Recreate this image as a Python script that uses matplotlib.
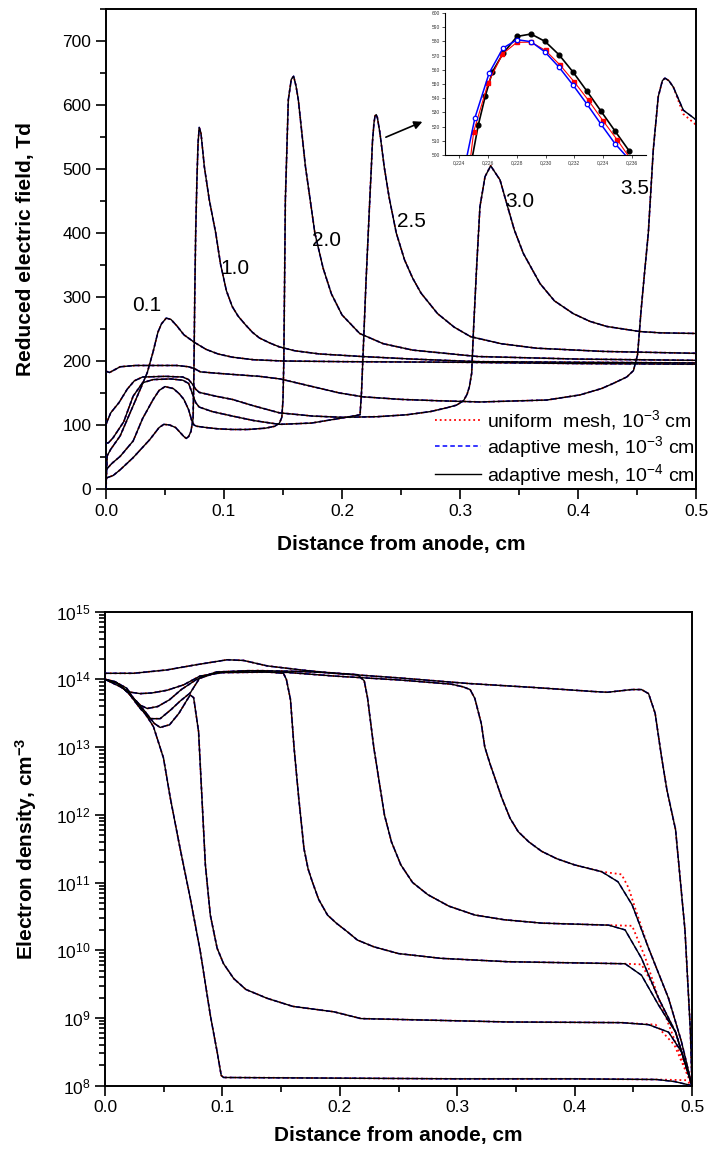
import matplotlib
matplotlib.use('Agg')
import matplotlib.pyplot as plt
from matplotlib.ticker import MultipleLocator, FuncFormatter, LogLocator, NullFormatter, FixedLocator
from matplotlib.lines import Line2D

plt.rcParams['font.family'] = ['Liberation Sans', 'DejaVu Sans']
plt.rcParams['mathtext.fontset'] = 'custom'
plt.rcParams['mathtext.rm'] = 'Liberation Sans'
plt.rcParams['mathtext.it'] = 'Liberation Sans:italic'
plt.rcParams['mathtext.bf'] = 'Liberation Sans:bold'

# ---------------- top panel: reduced electric field (Td) ----------------
E01_x = [0.0, 0.001, 0.004, 0.012, 0.023, 0.030, 0.035, 0.040, 0.044, 0.047, 0.051, 0.055, 0.060, 0.066, 0.075, 0.085, 0.095, 0.107, 0.125, 0.15, 0.2, 0.3, 0.4, 0.5]
E01_y = [0, 52, 62, 83, 130, 160, 182, 215, 245, 258, 267, 265, 255, 241, 229, 218, 211, 206, 202, 200, 199, 198, 196, 195]

E10_x = [0.0, 0.006, 0.012, 0.023, 0.037, 0.045, 0.049, 0.054, 0.059, 0.063, 0.066, 0.068, 0.070, 0.072, 0.0738, 0.0745, 0.0752, 0.076, 0.077, 0.078, 0.079, 0.0805, 0.0833, 0.0875, 0.093, 0.097, 0.102, 0.107, 0.112, 0.118, 0.124, 0.130, 0.139, 0.147, 0.16, 0.181, 0.217, 0.26, 0.315, 0.4, 0.5]
E10_y = [17, 21, 30, 49, 77, 96, 101, 100, 96, 88, 82, 79, 82, 90, 110, 180, 300, 400, 480, 540, 565, 556, 504, 452, 400, 352, 310, 285, 270, 257, 245, 236, 228, 222, 216, 211, 207, 203, 199, 198, 197]

E20_x = [0.0, 0.005, 0.012, 0.023, 0.031, 0.040, 0.045, 0.050, 0.057, 0.062, 0.066, 0.070, 0.0725, 0.0745, 0.077, 0.085, 0.095, 0.107, 0.120, 0.135, 0.143, 0.147, 0.149, 0.150, 0.1507, 0.152, 0.1545, 0.157, 0.159, 0.161, 0.163, 0.169, 0.177, 0.184, 0.191, 0.2, 0.215, 0.235, 0.26, 0.315, 0.4, 0.5]
E20_y = [30, 40, 51, 75, 110, 140, 154, 160, 157, 149, 140, 124, 108, 100, 98, 96, 94, 93, 93, 95, 98, 103, 112, 140, 201, 451, 608, 640, 645, 630, 608, 504, 400, 345, 305, 272, 243, 227, 217, 207, 203, 201]

E25_x = [0.0, 0.002, 0.006, 0.015, 0.023, 0.031, 0.040, 0.055, 0.065, 0.070, 0.073, 0.076, 0.079, 0.090, 0.107, 0.125, 0.147, 0.174, 0.197, 0.2065, 0.2153, 0.2165, 0.218, 0.2203, 0.2225, 0.224, 0.2248, 0.2258, 0.2271, 0.228, 0.229, 0.230, 0.232, 0.2358, 0.240, 0.246, 0.253, 0.260, 0.267, 0.281, 0.295, 0.309, 0.335, 0.365, 0.421, 0.5]
E25_y = [72, 72, 80, 105, 145, 166, 171, 172, 170, 165, 150, 135, 128, 121, 114, 107, 101, 103, 110, 113, 116, 150, 217, 322, 410, 470, 500, 542, 572, 583, 585, 580, 558, 503, 455, 400, 358, 329, 306, 274, 253, 238, 227, 220, 215, 212]

E30_x = [0.0, 0.004, 0.011, 0.018, 0.024, 0.031, 0.05, 0.065, 0.070, 0.074, 0.076, 0.079, 0.093, 0.107, 0.125, 0.147, 0.175, 0.20, 0.23, 0.255, 0.275, 0.289, 0.297, 0.303, 0.306, 0.308, 0.3099, 0.3113, 0.3141, 0.3169, 0.3212, 0.326, 0.3339, 0.3396, 0.346, 0.3537, 0.3678, 0.38, 0.396, 0.41, 0.4243, 0.4525, 0.47, 0.5]
E30_y = [101, 119, 135, 156, 169, 175, 176, 175, 171, 162, 156, 151, 145, 140, 130, 119, 114, 112, 113, 116, 121, 127, 131, 138, 148, 160, 181, 243, 347, 441, 488, 505, 483, 446, 405, 368, 321, 294, 274, 262, 254, 246, 244, 243]

E35_x = [0.0, 0.003, 0.012, 0.025, 0.06, 0.07, 0.075, 0.08, 0.1, 0.13, 0.1475, 0.175, 0.198, 0.218, 0.25, 0.28, 0.317, 0.3735, 0.4017, 0.42, 0.4299, 0.4413, 0.447, 0.4505, 0.4535, 0.4565, 0.4596, 0.4638, 0.468, 0.4715, 0.4737, 0.477, 0.4808, 0.4892, 0.5]
E35_y = [184, 182, 191, 193, 193, 191, 188, 183, 180, 176, 172, 160, 150, 144, 140, 138, 136, 139, 147, 157, 165, 175, 185, 210, 280, 340, 400, 530, 613, 638, 642, 638, 628, 592, 577]
E35_red_tail_x = [0.4892, 0.5]
E35_red_tail_y = [586, 569]

curve_labels = ['0.1', '1.0', '2.0', '2.5', '3.0', '3.5']

# ---------------- inset: field near the 2.5 peak ----------------
ins_black_x = [0.2247, 0.22532, 0.22581, 0.22630, 0.22706, 0.22802, 0.22899, 0.22997, 0.23094, 0.23192, 0.23289, 0.23387, 0.23484, 0.23582]
ins_black_y = [487.5, 521.2, 541.6, 558.6, 571.8, 583.5, 585.2, 580.0, 570.6, 558.4, 544.9, 530.8, 516.9, 503.0]
ins_red_x = [0.224, 0.225, 0.226, 0.227, 0.228, 0.229, 0.230, 0.231, 0.232, 0.233, 0.234, 0.235, 0.236]
ins_red_y = [434, 516.5, 550.6, 571.1, 579.3, 579.5, 573.6, 563.5, 551.5, 538.4, 524.2, 510.6, 496]
ins_blue_x = [0.224, 0.22509, 0.22607, 0.22704, 0.22802, 0.22899, 0.22997, 0.23094, 0.23192, 0.23289, 0.23387, 0.23484, 0.236]
ins_blue_y = [473.6, 526.4, 557.6, 575.3, 581.2, 579.8, 572.5, 561.9, 549.2, 535.8, 521.6, 508.0, 495]

# ---------------- bottom panel: electron density (log10 of cm^-3) ----------------
N01_x = [0.0, 0.008, 0.0185, 0.0242, 0.03, 0.0385, 0.0413, 0.0498, 0.0556, 0.064, 0.0726, 0.0812, 0.0897, 0.0955, 0.099, 0.101, 0.2, 0.3, 0.4, 0.47, 0.485, 0.5]
N01_lg = [14.0, 13.97, 13.87, 13.72, 13.6, 13.38, 13.3, 12.84, 12.25, 11.5, 10.77, 9.98, 9.04, 8.5, 8.15, 8.12, 8.11, 8.1, 8.1, 8.09, 8.06, 8.0]
N01_red_tail_x = [0.47, 0.495, 0.5]
N01_red_tail_lg = [8.09, 8.08, 8.0]

N10_x = [0.0, 0.01, 0.02, 0.033, 0.042, 0.047, 0.055, 0.063, 0.07, 0.0726, 0.0755, 0.0797, 0.0826, 0.0855, 0.0897, 0.0955, 0.101, 0.1097, 0.12, 0.138, 0.16, 0.195, 0.218, 0.343, 0.44, 0.463, 0.48, 0.491, 0.5]
N10_lg = [14.0, 13.95, 13.8, 13.55, 13.35, 13.29, 13.33, 13.5, 13.7, 13.77, 13.73, 13.23, 12.24, 11.26, 10.52, 10.03, 9.8, 9.58, 9.42, 9.29, 9.17, 9.09, 8.99, 8.94, 8.93, 8.90, 8.79, 8.5, 8.0]
N10_red_tail_x = [0.44, 0.469, 0.485, 0.5]
N10_red_tail_lg = [8.93, 8.90, 8.6, 8.0]

N20_x = [0.0, 0.01, 0.02, 0.03, 0.0385, 0.047, 0.056, 0.064, 0.0726, 0.081, 0.095, 0.124, 0.152, 0.1545, 0.158, 0.161, 0.165, 0.1695, 0.173, 0.1766, 0.182, 0.1895, 0.197, 0.2066, 0.215, 0.229, 0.25, 0.286, 0.343, 0.443, 0.457, 0.4715, 0.486, 0.5]
N20_lg = [14.0, 13.95, 13.8, 13.57, 13.42, 13.42, 13.55, 13.68, 13.8, 14.03, 14.11, 14.13, 14.09, 14.0, 13.7, 13.0, 12.25, 11.5, 11.2, 11.01, 10.75, 10.52, 10.4, 10.27, 10.15, 10.05, 9.95, 9.88, 9.83, 9.8, 9.63, 9.19, 8.79, 8.0]
N20_red_tail_x = [0.443, 0.457, 0.466, 0.478, 0.5]
N20_red_tail_lg = [9.8, 9.79, 9.51, 9.0, 8.0]

N25_x = [0.0, 0.01, 0.02, 0.03, 0.036, 0.045, 0.055, 0.065, 0.078, 0.095, 0.13, 0.16, 0.19, 0.215, 0.2208, 0.2236, 0.229, 0.238, 0.244, 0.252, 0.262, 0.275, 0.293, 0.315, 0.34, 0.372, 0.429, 0.443, 0.457, 0.4715, 0.486, 0.5]
N25_lg = [14.0, 13.95, 13.8, 13.62, 13.57, 13.6, 13.7, 13.85, 14.0, 14.1, 14.13, 14.12, 14.1, 14.07, 13.98, 13.73, 12.99, 12.0, 11.6, 11.26, 11.0, 10.82, 10.65, 10.52, 10.45, 10.40, 10.37, 10.30, 9.88, 9.29, 8.79, 8.0]
N25_red_tail_x = [0.429, 0.449, 0.46, 0.4715, 0.486, 0.5]
N25_red_tail_lg = [10.37, 10.36, 9.9, 9.29, 8.79, 8.0]

N30_x = [0.0, 0.012, 0.022, 0.03, 0.04, 0.053, 0.067, 0.081, 0.1, 0.15, 0.195, 0.252, 0.295, 0.305, 0.311, 0.315, 0.3205, 0.3235, 0.328, 0.333, 0.338, 0.345, 0.352, 0.361, 0.372, 0.385, 0.40, 0.423, 0.437, 0.449, 0.463, 0.48, 0.491, 0.5]
N30_lg = [14.0, 13.9, 13.81, 13.79, 13.8, 13.84, 13.92, 14.05, 14.1, 14.11, 14.05, 13.99, 13.93, 13.89, 13.85, 13.72, 13.35, 13.0, 12.75, 12.5, 12.25, 11.95, 11.75, 11.6, 11.46, 11.35, 11.26, 11.16, 11.01, 10.67, 10.03, 9.29, 8.65, 8.0]
N30_red_tail_x = [0.423, 0.44, 0.446, 0.4516, 0.463, 0.48, 0.491, 0.5]
N30_red_tail_lg = [11.16, 11.12, 10.92, 10.62, 10.03, 9.29, 8.65, 8.0]

N35_x = [0.0, 0.0242, 0.0527, 0.0755, 0.104, 0.118, 0.138, 0.1667, 0.195, 0.252, 0.309, 0.366, 0.417, 0.428, 0.4487, 0.457, 0.463, 0.4686, 0.474, 0.4786, 0.486, 0.494, 0.4986, 0.5]
N35_lg = [14.09, 14.09, 14.14, 14.21, 14.29, 14.28, 14.2, 14.14, 14.09, 14.02, 13.94, 13.88, 13.82, 13.81, 13.85, 13.85, 13.79, 13.5, 12.86, 12.37, 11.78, 10.30, 8.82, 8.0]

legend_labels = ['uniform  mesh, 10$^{-3}$ cm', 'adaptive mesh, 10$^{-3}$ cm', 'adaptive mesh, 10$^{-4}$ cm']

RED = '#ff0000'
BLUE = '#0000ff'
BLACK = '#000000'


def head_until(xs, ys, x_stop):
    """Points of a curve strictly before x_stop (shared part of the red curve)."""
    return [a for a in xs if a < x_stop], [b for a, b in zip(xs, ys) if a < x_stop]


def draw_three(ax, x, y, xr=None, yr=None):
    if xr is None:
        xr, yr = x, y
    ax.plot(xr, yr, color=RED, ls=':', lw=1.3, zorder=2)
    ax.plot(x, y, color=BLUE, ls=(0, (3, 2)), lw=1.1, zorder=3)
    ax.plot(x, y, color=BLACK, ls='-', lw=1.0, zorder=4)


def style_axes(ax):
    for s in ax.spines.values():
        s.set_linewidth(1.4)
    ax.tick_params(which='both', direction='out', top=False, right=False, width=1.2, labelsize=12.5)
    ax.tick_params(which='major', length=7)
    ax.tick_params(which='minor', length=4)


fig = plt.figure(figsize=(7.09, 11.56), dpi=100)

# ---- top axes ----
ax1 = fig.add_axes([106 / 709, 1 - 489 / 1156, 590 / 709, 480 / 1156])
top_curves = [(E01_x, E01_y), (E10_x, E10_y), (E20_x, E20_y), (E25_x, E25_y), (E30_x, E30_y)]
for x, y in top_curves:
    draw_three(ax1, x, y)
hx, hy = head_until(E35_x, E35_y, E35_red_tail_x[0])
draw_three(ax1, E35_x, E35_y, hx + E35_red_tail_x, hy + E35_red_tail_y)
ax1.set_xlim(0, 0.5)
ax1.set_ylim(0, 750)
ax1.xaxis.set_major_locator(MultipleLocator(0.1))
ax1.xaxis.set_minor_locator(MultipleLocator(0.05))
ax1.yaxis.set_major_locator(FixedLocator([0, 100, 200, 300, 400, 500, 600, 700]))
ax1.yaxis.set_minor_locator(MultipleLocator(50))
ax1.xaxis.set_major_formatter(FuncFormatter(lambda v, p: f'{v:.1f}'))
style_axes(ax1)
ax1.set_xlabel('Distance from anode, cm', fontsize=15, fontweight='bold', labelpad=12)
ax1.set_ylabel('Reduced electric field, Td', fontsize=15, fontweight='bold', labelpad=20)

label_pos = [(0.0347, 286), (0.109, 345), (0.187, 389), (0.259, 418), (0.351, 449), (0.448, 470)]
for lab, (lx, ly) in zip(curve_labels, label_pos):
    ax1.text(lx, ly, lab, fontsize=15, ha='center', va='center', zorder=6)

ax1.annotate('', xy=(0.2703, 575.5), xytext=(0.235, 548),
             arrowprops=dict(arrowstyle='-|>', color='black', lw=1.2, mutation_scale=12), zorder=6)

handles = [Line2D([], [], color=RED, ls=':', lw=1.3),
           Line2D([], [], color=BLUE, ls=(0, (3, 2)), lw=1.1),
           Line2D([], [], color=BLACK, ls='-', lw=1.0)]
ax1.legend(handles, legend_labels, loc='lower right', bbox_to_anchor=(1.0, 0.0), frameon=False,
           fontsize=14, handlelength=2.4, handletextpad=0.3, labelspacing=0.1, borderaxespad=0.0,
           borderpad=0.05)

# ---- inset ----
axi = fig.add_axes([445 / 709, 1 - 155 / 1156, 201 / 709, 142 / 1156])
axi.plot(ins_red_x, ins_red_y, color=RED, lw=0.8, marker='s', ms=3.2, mfc=RED, mec=RED, zorder=3)
axi.plot(ins_blue_x, ins_blue_y, color=BLUE, lw=1.1, marker='o', ms=3.2, mfc='white', mec=BLUE, mew=0.9, zorder=4)
axi.plot(ins_black_x, ins_black_y, color=BLACK, lw=1.2, marker='o', ms=3.4, mfc=BLACK, mec=BLACK, zorder=2)
axi.set_xlim(0.2230, 0.2370)
axi.set_ylim(500, 600)
axi.spines['top'].set_visible(False)
axi.spines['right'].set_visible(False)
for s in ('left', 'bottom'):
    axi.spines[s].set_linewidth(0.8)
axi.xaxis.set_major_locator(FixedLocator([0.224, 0.226, 0.228, 0.230, 0.232, 0.234, 0.236]))
axi.yaxis.set_major_locator(MultipleLocator(10))
axi.xaxis.set_major_formatter(FuncFormatter(lambda v, p: f'{v:.3f}'.replace('.', ',')))
axi.yaxis.set_major_formatter(FuncFormatter(lambda v, p: f'{v:.0f}'))
axi.tick_params(which='both', direction='out', length=2, width=0.6, labelsize=3.5, pad=1.5, colors='#333333')
axi.patch.set_alpha(0)

# ---- bottom axes ----
ax2 = fig.add_axes([105 / 709, 1 - 1085.6 / 1156, 587 / 709, 473.9 / 1156])
bottom_curves = [
    (N01_x, N01_lg, N01_red_tail_x, N01_red_tail_lg),
    (N10_x, N10_lg, N10_red_tail_x, N10_red_tail_lg),
    (N20_x, N20_lg, N20_red_tail_x, N20_red_tail_lg),
    (N25_x, N25_lg, N25_red_tail_x, N25_red_tail_lg),
    (N30_x, N30_lg, N30_red_tail_x, N30_red_tail_lg),
    (N35_x, N35_lg, None, None),
]
for x, lg, tx, tlg in bottom_curves:
    if tx is None:
        xr, lgr = x, lg
    else:
        hx, hl = head_until(x, lg, tx[0])
        xr, lgr = hx + tx, hl + tlg
    draw_three(ax2, x, [10 ** v for v in lg], xr, [10 ** v for v in lgr])
ax2.set_yscale('log')
ax2.set_xlim(0, 0.5)
ax2.set_ylim(1e8, 1e15)
ax2.xaxis.set_major_locator(MultipleLocator(0.1))
ax2.xaxis.set_minor_locator(MultipleLocator(0.05))
ax2.xaxis.set_major_formatter(FuncFormatter(lambda v, p: f'{v:.1f}'))
ax2.yaxis.set_major_locator(LogLocator(base=10, numticks=20))
ax2.yaxis.set_minor_locator(LogLocator(base=10, subs=[2, 3, 4, 5, 6, 7, 8, 9], numticks=20))
ax2.yaxis.set_minor_formatter(NullFormatter())
style_axes(ax2)
ax2.set_xlabel('Distance from anode, cm', fontsize=15, fontweight='bold', labelpad=8)
ax2.set_ylabel('Electron density, cm$^{\\mathbf{-3}}$', fontsize=15, fontweight='bold', labelpad=12)

fig.savefig('out.png', dpi=100, facecolor='white')
